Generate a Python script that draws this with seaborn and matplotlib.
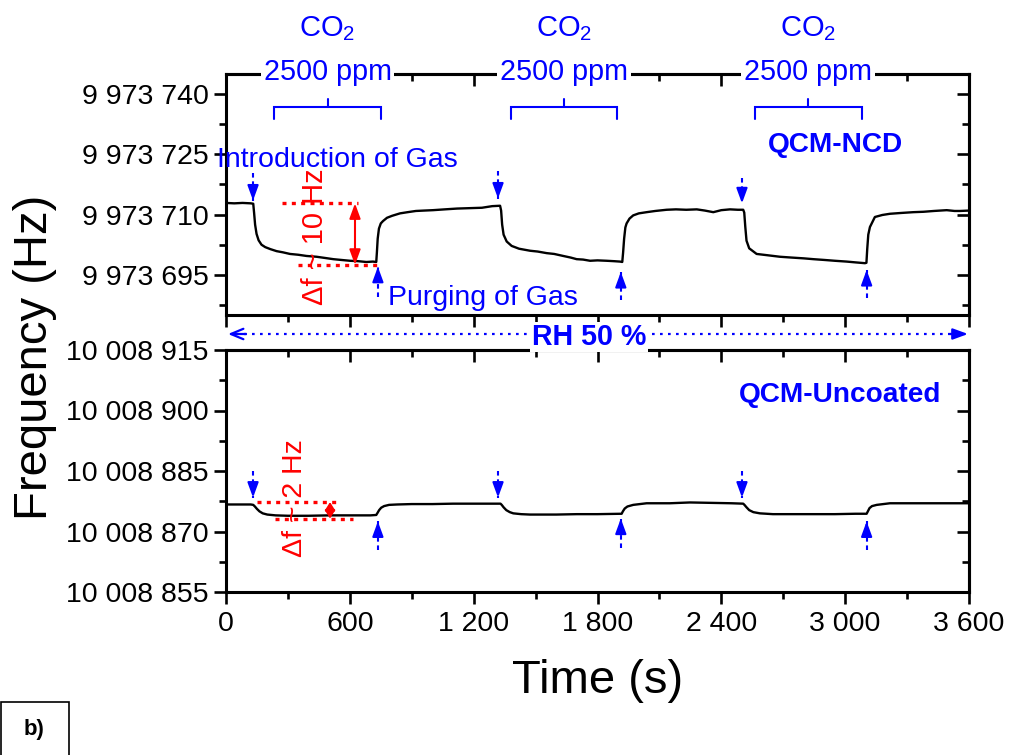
import numpy as np
import pandas as pd
import matplotlib
matplotlib.use("Agg")
import matplotlib.pyplot as plt
import matplotlib.transforms as mtransforms
from matplotlib.patches import Rectangle
from matplotlib.ticker import MultipleLocator
import seaborn as sns

# ---------------- data ----------------
ncd_time = [0, 40, 80, 120, 132, 136, 141, 148, 158, 172, 190, 215, 245, 276, 310, 350, 390, 439,
            480, 520, 560, 601, 640, 680, 712, 728, 731, 735, 741, 750, 761, 780, 805, 843, 880,
            920, 960, 1003, 1060, 1120, 1180, 1240, 1290, 1328,
            1333, 1338, 1345, 1360, 1384, 1420, 1473, 1510, 1554, 1590, 1634, 1670, 1699, 1730,
            1764, 1800, 1845, 1880, 1909, 1920, 1924, 1929, 1935, 1941, 1955, 1973, 2000, 2038,
            2080, 2135, 2180, 2230, 2281, 2320, 2361, 2400, 2442, 2480, 2506,
            2511, 2516, 2522, 2535, 2571, 2620, 2684, 2740, 2800, 2846, 2900, 2950, 3007, 3050,
            3096, 3103, 3107, 3112, 3120, 3144, 3180, 3217, 3270, 3330, 3380, 3430, 3492, 3530,
            3556, 3600]
ncd_freq = [9973712.9, 9973712.8, 9973712.9, 9973712.8, 9973712.7, 9973710.5, 9973707.5, 9973705.2,
            9973703.6, 9973702.5, 9973701.9, 9973701.4, 9973700.9, 9973700.6, 9973700.2, 9973700.0,
            9973699.7, 9973699.5, 9973699.2, 9973698.9, 9973698.7, 9973698.5, 9973698.4, 9973698.2,
            9973698.3, 9973698.2, 9973700.5, 9973704.0, 9973706.5, 9973707.8, 9973708.4, 9973709.2,
            9973709.7, 9973710.3, 9973710.6, 9973710.9, 9973711.0, 9973711.1, 9973711.3, 9973711.5,
            9973711.6, 9973711.7, 9973712.1, 9973712.2,
            9973711.0, 9973707.5, 9973705.0, 9973703.3, 9973702.2, 9973701.5, 9973701.0, 9973700.8,
            9973700.4, 9973700.2, 9973699.7, 9973699.3, 9973698.9, 9973698.8, 9973698.5, 9973698.6,
            9973698.5, 9973698.4, 9973698.3, 9973698.2, 9973700.5, 9973704.0, 9973706.8, 9973707.8,
            9973709.0, 9973709.8, 9973710.3, 9973710.6, 9973710.9, 9973711.2, 9973711.3, 9973711.2,
            9973711.3, 9973711.0, 9973710.6, 9973711.1, 9973711.3, 9973711.2, 9973711.2,
            9973710.5, 9973707.0, 9973703.5, 9973701.6, 9973700.2, 9973699.9, 9973699.5, 9973699.3,
            9973699.1, 9973698.9, 9973698.7, 9973698.5, 9973698.3, 9973698.1, 9973697.9, 9973698.0,
            9973701.5, 9973705.0, 9973706.9, 9973709.4, 9973709.9, 9973710.2, 9973710.4, 9973710.6,
            9973710.7, 9973710.9, 9973711.1, 9973710.9, 9973710.9, 9973711.0]

unc_time = [0, 60, 120, 132, 140, 150, 162, 178, 200, 240, 300, 400, 500, 600, 700, 728, 734, 742,
            752, 766, 790, 830, 900, 1000, 1100, 1200, 1330,
            1336, 1345, 1358, 1375, 1392, 1430, 1473, 1600, 1700, 1800, 1917, 1923, 1932, 1945,
            1973, 2038, 2150, 2248, 2350, 2450, 2506, 2512, 2522, 2535, 2555, 2587, 2650, 2800,
            2950, 3050, 3104, 3110, 3118, 3130, 3153, 3217, 3350, 3500, 3600]
unc_freq = [10008876.7, 10008876.7, 10008876.7, 10008876.6, 10008876.2, 10008875.6, 10008875.0,
            10008874.5, 10008874.2, 10008874.0, 10008873.9, 10008873.9, 10008874.0, 10008874.0,
            10008874.0, 10008874.1, 10008874.6, 10008875.3, 10008875.9, 10008876.3, 10008876.6,
            10008876.7, 10008876.8, 10008876.8, 10008876.9, 10008876.9, 10008876.9,
            10008876.6, 10008876.0, 10008875.3, 10008874.8, 10008874.5, 10008874.3, 10008874.2,
            10008874.2, 10008874.3, 10008874.3, 10008874.4, 10008875.0, 10008875.7, 10008876.2,
            10008876.6, 10008877.0, 10008877.0, 10008877.2, 10008877.1, 10008877.0, 10008876.9,
            10008876.6, 10008876.0, 10008875.3, 10008874.8, 10008874.5, 10008874.3, 10008874.3,
            10008874.3, 10008874.4, 10008874.4, 10008875.0, 10008875.8, 10008876.3, 10008876.6,
            10008877.0, 10008877.0, 10008877.0, 10008877.0]

x_ticks = [0, 600, 1200, 1800, 2400, 3000, 3600]
x_ticklabels = ["0", "600", "1 200", "1 800", "2 400", "3 000", "3 600"]
ncd_yticks = [9973695, 9973710, 9973725, 9973740]
ncd_yticklabels = ["9 973 695", "9 973 710", "9 973 725", "9 973 740"]
unc_yticks = [10008855, 10008870, 10008885, 10008900, 10008915]
unc_yticklabels = ["10 008 855", "10 008 870", "10 008 885", "10 008 900", "10 008 915"]

# annotation positions
bracket_spans = [(233, 751), (1381, 1896), (2563, 3080)]
intro_arrow_t = [131, 1318, 2500]
purge_arrow_t = [736, 1913, 3104]
ncd_intro_arrow_y = [(9973720.4, 9973713.5), (9973720.9, 9973714.0), (9973719.2, 9973712.8)]
ncd_purge_arrow_y = [(9973689.6, 9973697.0), (9973688.8, 9973695.7), (9973689.3, 9973696.2)]
unc_intro_arrow_y = [(10008885.1, 10008878.4)] * 3
unc_purge_arrow_y = [(10008865.3, 10008872.5), (10008866.0, 10008873.2), (10008865.3, 10008872.5)]

# ---------------- style ----------------
sns.set_style("ticks")
plt.rcParams["font.family"] = ["Liberation Sans", "DejaVu Sans"]
plt.rcParams["mathtext.fontset"] = "custom"
plt.rcParams["mathtext.rm"] = "Liberation Sans"
plt.rcParams["mathtext.it"] = "Liberation Sans:italic"
plt.rcParams["mathtext.bf"] = "Liberation Sans:bold"
for k in ["text.color", "axes.labelcolor", "xtick.color", "ytick.color", "axes.edgecolor"]:
    plt.rcParams[k] = "black"

W, H = 1010, 755
fig = plt.figure(figsize=(W / 100, H / 100), dpi=100)


def fx(px):
    return px / W


def fy(py):
    return 1 - py / H


L, R = 226, 969
ax1 = fig.add_axes([fx(L), fy(315), fx(R) - fx(L), fy(74) - fy(315)])
ax2 = fig.add_axes([fx(L), fy(592), fx(R) - fx(L), fy(350) - fy(592)])

df_ncd = pd.DataFrame({"t": ncd_time, "f": ncd_freq})
df_unc = pd.DataFrame({"t": unc_time, "f": unc_freq})
sns.lineplot(data=df_ncd, x="t", y="f", ax=ax1, color="black", lw=1.7, estimator=None)
sns.lineplot(data=df_unc, x="t", y="f", ax=ax2, color="black", lw=1.7, estimator=None)

SPW = 2.2
TICKFS = 20.5


def style_axis(ax, yticks, ylabels, ylim, show_x):
    ax.set_xlim(0, 3600)
    ax.set_ylim(*ylim)
    ax.set_xlabel("")
    ax.set_ylabel("")
    ax.set_xticks(x_ticks)
    ax.set_xticklabels(x_ticklabels if show_x else [""] * len(x_ticks))
    ax.xaxis.set_minor_locator(MultipleLocator(300))
    ax.set_yticks(yticks)
    ax.set_yticklabels(ylabels)
    ax.yaxis.set_minor_locator(MultipleLocator(7.5))
    for s in ax.spines.values():
        s.set_linewidth(SPW)
        s.set_visible(True)
        s.set_color("black")
    ax.tick_params(which="major", direction="out", length=8.6, width=1.9,
                   labelsize=TICKFS, pad=4, colors="black")
    ax.tick_params(which="minor", direction="out", length=5, width=1.9, colors="black")
    ax.tick_params(axis="x", which="major", pad=5)
    # inward mirrored ticks
    secx = ax.secondary_xaxis("top")
    secx.set_xticks(x_ticks)
    secx.set_xticklabels([])
    secx.xaxis.set_minor_locator(MultipleLocator(300))
    secx.tick_params(which="major", direction="in", length=8.6, width=1.9)
    secx.tick_params(which="minor", direction="in", length=5, width=1.9)
    secx.spines["top"].set_linewidth(SPW)
    secy = ax.secondary_yaxis("right")
    secy.set_yticks(yticks)
    secy.set_yticklabels([])
    secy.yaxis.set_minor_locator(MultipleLocator(7.5))
    secy.tick_params(which="major", direction="in", length=8.6, width=1.9)
    secy.tick_params(which="minor", direction="in", length=5, width=1.9)
    secy.spines["right"].set_linewidth(SPW)


style_axis(ax1, ncd_yticks, ncd_yticklabels, (9973685, 9973745), False)
style_axis(ax2, unc_yticks, unc_yticklabels, (10008855, 10008915), True)

BLUE = "#0000ff"
RED = "#ff0000"


def blue_arrow(ax, x, y_tail, y_tip):
    ax.plot([x, x], [y_tail, y_tip], color=BLUE, lw=1.5, ls=(0, (2.2, 1.8)),
            solid_capstyle="butt", dash_capstyle="butt", zorder=4)
    ax.annotate("", xy=(x, y_tip), xytext=(x, y_tail + 0.55 * (y_tip - y_tail)),
                arrowprops=dict(arrowstyle="-|>,head_length=0.6,head_width=0.22",
                                color=BLUE, lw=1.5, shrinkA=0, shrinkB=0,
                                mutation_scale=15), zorder=5)


for t, (yt, yp) in zip(intro_arrow_t, ncd_intro_arrow_y):
    blue_arrow(ax1, t, yt, yp)
for t, (yt, yp) in zip(purge_arrow_t, ncd_purge_arrow_y):
    blue_arrow(ax1, t, yt, yp)
for t, (yt, yp) in zip(intro_arrow_t, unc_intro_arrow_y):
    blue_arrow(ax2, t, yt, yp)
for t, (yt, yp) in zip(purge_arrow_t, unc_purge_arrow_y):
    blue_arrow(ax2, t, yt, yp)

# brackets and CO2 labels
tr1 = mtransforms.blended_transform_factory(ax1.transData, ax1.transAxes)
for a, b in bracket_spans:
    c = (a + b) / 2
    ax1.plot([a, a, b, b], [0.813, 0.864, 0.864, 0.813], color=BLUE, lw=1.5,
             transform=tr1, clip_on=False, solid_joinstyle="miter")
    ax1.plot([c, c], [0.864, 0.895], color=BLUE, lw=1.5, transform=tr1, clip_on=False)
    ax1.text(c, 1.158, r"CO$_\mathregular{2}$", color=BLUE, fontsize=21, ha="center",
             va="baseline", transform=tr1, clip_on=False)
    ax1.text(c, 0.975, "2500 ppm", color=BLUE, fontsize=20.7, ha="center", va="baseline",
             transform=tr1, clip_on=False, zorder=6,
             bbox=dict(facecolor="white", edgecolor="none", pad=2))

ax1.text(-44, 9973721.8, "Introduction of Gas", color=BLUE, fontsize=20.5, ha="left",
         va="baseline", clip_on=False, zorder=6)
ax1.text(786, 9973687.6, "Purging of Gas", color=BLUE, fontsize=20.5, ha="left",
         va="baseline", zorder=6)
ax1.text(3282, 9973725.5, "QCM-NCD", color=BLUE, fontsize=20.2, fontweight="bold",
         ha="right", va="baseline")
ax2.text(3467, 10008902.1, "QCM-Uncoated", color=BLUE, fontsize=20.2, fontweight="bold",
         ha="right", va="baseline")

# red delta-f annotations
ax1.plot([271, 640], [9973712.8, 9973712.8], color=RED, lw=2.4, ls=(0, (1.2, 1.6)), zorder=4)
ax1.plot([349, 732], [9973697.5, 9973697.5], color=RED, lw=2.4, ls=(0, (1.2, 1.6)), zorder=4)
ax1.annotate("", xy=(625, 9973697.5), xytext=(625, 9973712.8),
             arrowprops=dict(arrowstyle="<|-|>,head_length=0.6,head_width=0.22", color=RED,
                             lw=1.5, shrinkA=0, shrinkB=0, mutation_scale=15), zorder=5)
ax1.text(431, 9973704.4, "Δf ~ 10 Hz", color=RED, fontsize=21, rotation=90,
         ha="center", va="center", zorder=6)

ax2.plot([149, 544], [10008877.3, 10008877.3], color=RED, lw=2.4, ls=(0, (1.2, 1.6)), zorder=4)
ax2.plot([237, 617], [10008873.2, 10008873.2], color=RED, lw=2.4, ls=(0, (1.2, 1.6)), zorder=4)
ax2.annotate("", xy=(504, 10008873.2), xytext=(504, 10008877.3),
             arrowprops=dict(arrowstyle="<|-|>,head_length=0.4,head_width=0.25", color=RED,
                             lw=1.5, shrinkA=0, shrinkB=0, mutation_scale=12), zorder=5)
ax2.text(334, 10008878.2, "Δf ~ 2 Hz", color=RED, fontsize=20.5, rotation=90,
         ha="center", va="center", zorder=6)

# RH 50 % arrow between panels
yrh = fy(334)
ax2.plot([fx(236), fx(958)], [yrh, yrh], color=BLUE, lw=1.6, ls=(0, (1.2, 2.4)),
         transform=fig.transFigure, clip_on=False)
ax2.annotate("", xy=(fx(228), yrh), xytext=(fx(246), yrh), xycoords="figure fraction",
             textcoords="figure fraction", annotation_clip=False,
             arrowprops=dict(arrowstyle="->,head_length=0.6,head_width=0.25", color=BLUE,
                             lw=1.6, shrinkA=0, shrinkB=0, mutation_scale=15))
ax2.annotate("", xy=(fx(968), yrh), xytext=(fx(950), yrh), xycoords="figure fraction",
             textcoords="figure fraction", annotation_clip=False,
             arrowprops=dict(arrowstyle="-|>,head_length=0.6,head_width=0.22", color=BLUE,
                             lw=1.6, shrinkA=0, shrinkB=0, mutation_scale=15))
fig.text(fx(589), fy(345), "RH 50 %", color=BLUE, fontsize=20.6, fontweight="bold",
         ha="center", va="baseline", bbox=dict(facecolor="white", edgecolor="none", pad=1))

# axis titles
fig.text(fx(35), fy(357), "Frequency (Hz)", fontsize=34, rotation=90, ha="center", va="center")
ax2.set_xlabel("Time (s)", fontsize=34, labelpad=16)

# panel tag
fig.add_artist(Rectangle((fx(1), fy(765)), fx(69) - fx(1), fy(702) - fy(765),
                         transform=fig.transFigure, facecolor="white", edgecolor="black",
                         lw=1.2))
fig.text(fx(34), fy(729), "b)", fontsize=16, fontweight="bold", ha="center", va="center")

fig.savefig("out.png", dpi=100)
